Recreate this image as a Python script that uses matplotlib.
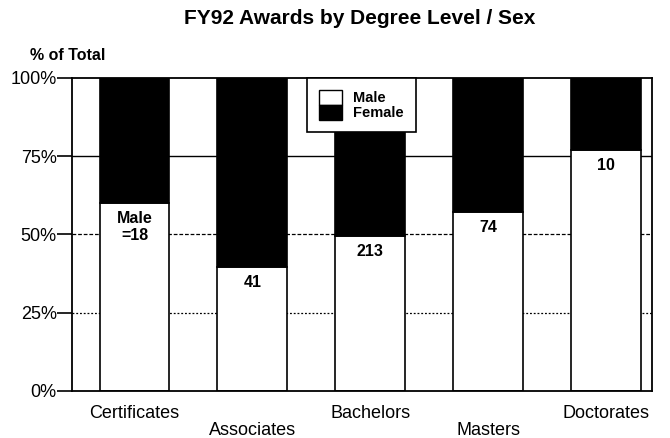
import matplotlib
matplotlib.use("Agg")
import matplotlib.pyplot as plt
from matplotlib.patches import Patch

plt.rcParams['font.family'] = ['Liberation Sans', 'DejaVu Sans']

# data
categories = ["Certificates", "Associates", "Bachelors", "Masters", "Doctorates"]
male_pct = [60, 39.5, 49.5, 57, 77]
female_pct = [100 - m for m in male_pct]
male_labels = ["Male\n=18", "41", "213", "74", "10"]
y_ticks = [0, 25, 50, 75, 100]
y_tick_labels = ["0%", "25%", "50%", "75%", "100%"]

fig = plt.figure(figsize=(6.7, 4.38), dpi=100)
ax = fig.add_axes([0.1075, 0.108, 0.8655, 0.714])

x = list(range(len(categories)))
w = 0.593

# gridlines sit behind the bars, only visible in the gaps
ax.axhline(75, color="black", lw=1.0, zorder=0)
ax.axhline(50, color="black", lw=0.9, ls=(0, (3, 1.5)), zorder=0)
ax.axhline(25, color="black", lw=0.9, ls=(0, (1.5, 1.5)), zorder=0)

ax.bar(x, male_pct, width=w, color="white", edgecolor="black", lw=1.2, zorder=2)
ax.bar(x, female_pct, width=w, bottom=male_pct, color="black",
       edgecolor="black", lw=1.2, zorder=2)

for i, (m, lab) in enumerate(zip(male_pct, male_labels)):
    ax.text(i, m - 2.5, lab, ha="center", va="top", fontsize=11.5,
            fontweight="bold", linespacing=1.15, zorder=3)

ax.set_xlim(-0.53, 4.39)
ax.set_ylim(0, 100)

ax.set_yticks(y_ticks)
ax.set_yticklabels(y_tick_labels, fontsize=13)
ax.tick_params(axis="y", direction="out", length=11, width=1.2, pad=0)

# staggered category labels
ax.set_xticks(x)
ax.set_xticklabels([c if i % 2 == 0 else "\n" + c for i, c in enumerate(categories)],
                   fontsize=13, linespacing=1.0)
ax.tick_params(axis="x", length=0, pad=10)

for s in ax.spines.values():
    s.set_linewidth(1.3)

handles = [Patch(facecolor="white", edgecolor="black", label="Male"),
           Patch(facecolor="black", edgecolor="black", label="Female")]
leg = ax.legend(handles=handles, loc="upper left", bbox_to_anchor=(0.405, 1.0),
                frameon=True, fancybox=False, edgecolor="black", framealpha=1,
                prop={"size": 10.5, "weight": "bold"},
                handlelength=1.58, handleheight=1.2, labelspacing=0.0,
                borderpad=0.8, handletextpad=0.8, borderaxespad=0)
leg.get_frame().set_linewidth(1.2)
leg.set_zorder(5)

fig.text(0.537, 0.958, "FY92 Awards by Degree Level / Sex", ha="center", va="center",
         fontsize=15, fontweight="bold")
fig.text(0.045, 0.873, "% of Total", ha="left", va="center", fontsize=11.5,
         fontweight="bold")

fig.savefig("out.png", dpi=100)
